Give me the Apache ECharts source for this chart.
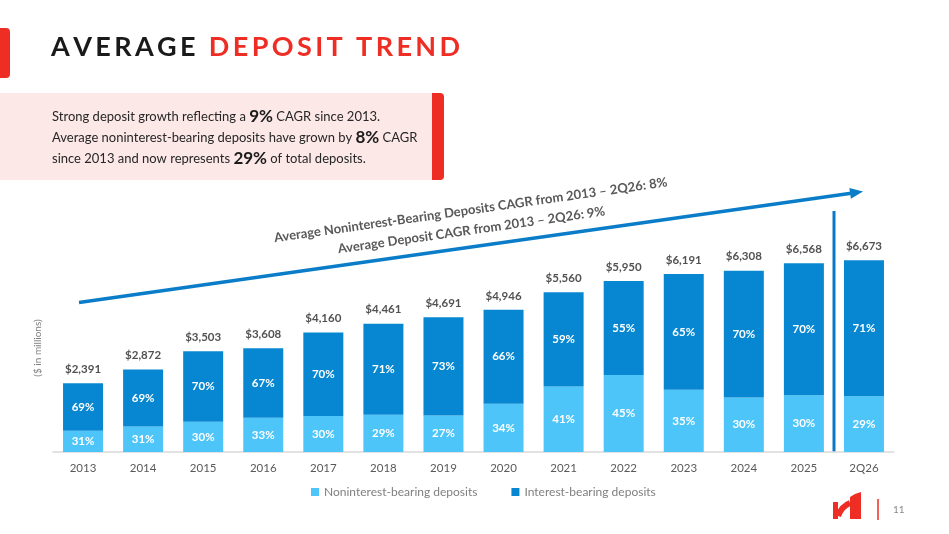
<!DOCTYPE html>
<html><head><meta charset="utf-8">
<script src="https://cdn.jsdelivr.net/npm/echarts@6/dist/echarts.min.js"></script>
<style>html,body{margin:0;padding:0;background:#fff}#c{width:949px;height:534px}</style>
</head><body><div id="c"></div>
<script>
const categories = ['2013','2014','2015','2016','2017','2018','2019','2020','2021','2022','2023','2024','2025','2Q26'];
const totals = [2391,2872,3503,3608,4160,4461,4691,4946,5560,5950,6191,6308,6568,6673];
const nonInterestPct = [31,31,30,33,30,29,27,34,41,45,35,30,30,29];
const interestPct = [69,69,70,67,70,71,73,66,59,55,65,70,70,71];
const seriesNames = ['Noninterest-bearing deposits','Interest-bearing deposits'];

const FONT = 'Lato, "Noto Sans", sans-serif';
const LIGHT = '#4DC5F9', DARK = '#0787D1', RED = '#EE2E24', ARROW = '#0B7DC8';

const nonVals = totals.map((t,i)=>({value:t*nonInterestPct[i]/100, pct:nonInterestPct[i]}));
const intVals = totals.map((t,i)=>({value:t*interestPct[i]/100, pct:interestPct[i]}));

const mctx = document.createElement('canvas').getContext('2d');
function spacedText(parts, x, y, size, weight, targetW){
  const font = weight+' '+size+'px '+FONT;
  mctx.font = font;
  let chars = [];
  parts.forEach(p=>{ for(const ch of p.text) chars.push({ch, color:p.color}); });
  const natural = chars.reduce((s,c)=>s+mctx.measureText(c.ch).width,0);
  const sp = (targetW-natural)/(chars.length-1);
  let cx = x; const els=[];
  chars.forEach(c=>{
    if(c.ch!==' ') els.push({type:'text', x:cx, y:y, silent:true,
      style:{text:c.ch, fill:c.color, font:font, textVerticalAlign:'middle', textAlign:'left'}});
    cx += mctx.measureText(c.ch).width + sp;
  });
  return els;
}

const rot = 8.1*Math.PI/180;
const tip = [863,191.5], d=[0.990,-0.140], n=[0.140,0.990];
const bc = [tip[0]-13*d[0], tip[1]-13*d[1]];

const graphics = [
  {type:'rect', shape:{x:-6,y:28,width:16,height:50,r:4}, style:{fill:RED}, silent:true},
  ...spacedText([{text:'AVERAGE ',color:'#1a1a1a'},{text:'DEPOSIT TREND',color:RED}], 51, 47, 27, 'bold', 409),
  {type:'rect', shape:{x:0,y:93,width:436,height:87}, style:{fill:'#FDE8E8'}, silent:true},
  {type:'rect', shape:{x:432,y:93,width:12,height:87,r:[0,4,4,0]}, style:{fill:RED}, silent:true},
  {type:'text', x:52, y:106, silent:true, style:{
    text:'Strong deposit growth reflecting a {b|9%} CAGR since 2013.\nAverage noninterest-bearing deposits have grown by {b|8%} CAGR\nsince 2013 and now represents {b|29%} of total deposits.',
    fill:'#262626', fontSize:13, fontFamily:FONT, lineHeight:21, textVerticalAlign:'top',
    rich:{b:{fontSize:17, fontWeight:'bold', fontFamily:FONT, fill:'#1a1a1a', lineHeight:21}}
  }},
  {type:'group', x:472, y:220, rotation:rot, silent:true, children:[
    {type:'text', x:0, y:-10, style:{text:'Average Noninterest-Bearing Deposits CAGR from 2013 – 2Q26: 8%', fill:'#595959', font:'bold 13px '+FONT, textAlign:'center', textVerticalAlign:'middle'}},
    {type:'text', x:-2, y:10, style:{text:'Average Deposit CAGR from 2013 – 2Q26: 9%', fill:'#595959', font:'bold 13px '+FONT, textAlign:'center', textVerticalAlign:'middle'}}
  ]},
  {type:'line', shape:{x1:79,y1:302.5,x2:bc[0]+1,y2:bc[1]}, style:{stroke:ARROW, lineWidth:3.5}, silent:true},
  {type:'polygon', shape:{points:[tip,[bc[0]+5.5*n[0],bc[1]+5.5*n[1]],[bc[0]-5.5*n[0],bc[1]-5.5*n[1]]]}, style:{fill:ARROW}, silent:true},
  {type:'line', shape:{x1:834,y1:211,x2:834,y2:452}, style:{stroke:'#0B78C6', lineWidth:3}, silent:true},
  {type:'text', x:38, y:348, rotation:Math.PI/2, silent:true, style:{text:'($ in millions)', fill:'#7f7f7f', font:'10px '+FONT, textAlign:'center', textVerticalAlign:'middle'}},
  {type:'rect', shape:{x:833,y:502,width:5,height:17}, style:{fill:RED}, silent:true},
  {type:'polygon', shape:{points:[[850,497],[855,494],[861,492],[861,519],[850,519]]}, style:{fill:RED}, silent:true},
  {type:'bezierCurve', shape:{x1:838,y1:516,x2:850,y2:503,cpx1:842,cpy1:506}, style:{stroke:RED, lineWidth:6, fill:'none'}, silent:true},
  {type:'line', shape:{x1:878,y1:499,x2:878,y2:520}, style:{stroke:RED, lineWidth:1.5}, silent:true},
  {type:'text', x:893, y:510, silent:true, style:{text:'11', fill:'#8a8a8a', font:'10px '+FONT, textVerticalAlign:'middle'}}
];

const chart = echarts.init(document.getElementById('c'), null, {renderer:'canvas'});
chart.setOption({
  animation:false,
  textStyle:{fontFamily:FONT},
  grid:{left:53, right:55, top:222, bottom:82},
  legend:{data:seriesNames, left:306, top:481, itemWidth:8, itemHeight:8, itemGap:34, icon:'rect',
    textStyle:{color:'#7f7f7f', fontSize:12, fontFamily:FONT}},
  xAxis:{type:'category', data:categories, axisTick:{show:false},
    axisLine:{lineStyle:{color:'#d9d9d9', width:1.5}},
    axisLabel:{color:'#595959', fontSize:11.5, margin:10, fontFamily:FONT}},
  yAxis:{type:'value', min:0, max:8000, show:false, splitLine:{show:false}},
  series:[
    {name:seriesNames[0], type:'bar', stack:'d', barWidth:40, data:nonVals, itemStyle:{color:LIGHT},
      label:{show:true, position:'inside', color:'#fff', fontSize:11.5, fontWeight:'bold', fontFamily:FONT, formatter:p=>p.data.pct+'%'}},
    {name:seriesNames[1], type:'bar', stack:'d', barWidth:40, data:intVals, itemStyle:{color:DARK},
      label:{show:true, position:'inside', color:'#fff', fontSize:11.5, fontWeight:'bold', fontFamily:FONT, formatter:p=>p.data.pct+'%'}},
    {name:'Total', type:'scatter', data:totals, symbolSize:0, silent:true, z:5,
      label:{show:true, position:'top', distance:8, color:'#262626', fontSize:11.5, fontWeight:'bold', fontFamily:FONT,
        formatter:p=>'$'+p.value.toLocaleString('en-US')}}
  ],
  graphic:graphics
});
</script></body></html>
